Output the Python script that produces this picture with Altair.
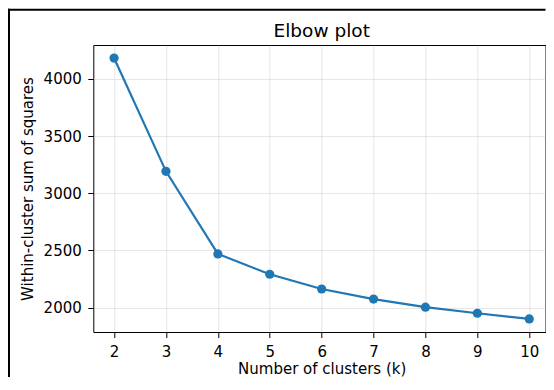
import altair as alt
import pandas as pd

k_values = [2, 3, 4, 5, 6, 7, 8, 9, 10]
wcss_values = [4183, 3192, 2470, 2292, 2163, 2075, 2004, 1951, 1901]
x_ticks = [2, 3, 4, 5, 6, 7, 8, 9, 10]
y_ticks = [2000, 2500, 3000, 3500, 4000]
title_text = "Elbow plot"

df = pd.DataFrame({"k": k_values, "wcss": wcss_values})

FONT = "DejaVu Sans"
BLUE = "#1f77b4"

x_enc = alt.X(
    "k:Q",
    scale=alt.Scale(domain=[1.6, 10.313], nice=False, zero=False),
    axis=alt.Axis(values=x_ticks, format="d", title="Number of clusters (k)",
                  titleX=228.4, titleAlign="center",
                  titleY=41.5, titleBaseline="alphabetic"),
)
y_enc = alt.Y(
    "wcss:Q",
    scale=alt.Scale(domain=[1787, 4297], nice=False, zero=False),
    axis=alt.Axis(values=y_ticks, format="d", title="Within-cluster sum of squares",
                  titleX=-61.3, titleY=143.5, titleAngle=270, titleAlign="center",
                  titleBaseline="alphabetic"),
)

# figure border: top and left edges (right/bottom lie outside the picture)
frame_top = alt.Chart(alt.Data(values=[{"f": 1}])).mark_rule(
    stroke="black", strokeWidth=2
).encode(x=alt.value(-85.3), x2=alt.value(452.2), y=alt.value(-35.3))
frame_left = alt.Chart(alt.Data(values=[{"f": 1}])).mark_rule(
    stroke="black", strokeWidth=2
).encode(x=alt.value(-84.3), y=alt.value(-36.3), y2=alt.value(332))

title = alt.Chart(alt.Data(values=[{"t": title_text}])).mark_text(
    font=FONT, fontSize=18.5, color="black", align="center", baseline="alphabetic"
).encode(
    x=alt.value(228.4), y=alt.value(-8.3), text="t:N"
)

base = alt.Chart(df)
line = base.mark_line(color=BLUE, strokeWidth=2.2).encode(x=x_enc, y=y_enc)
pts = base.mark_circle(color=BLUE, size=85, opacity=1).encode(x="k:Q", y="wcss:Q")

chart = alt.layer(line, pts, frame_top, frame_left, title).properties(
    width=452.2,
    height=287,
    autosize=alt.AutoSizeParams(type="none"),
    padding={"left": 85.3, "top": 37, "right": 0.5, "bottom": 45},
).configure_view(
    stroke="black", strokeWidth=1
).configure_axis(
    labelFont=FONT, labelFontSize=15, labelColor="black",
    titleFont=FONT, titleFontSize=15, titleFontWeight="normal", titleColor="black",
    tickColor="black", tickWidth=1, tickSize=5.5, labelPadding=6.5,
    domain=False, grid=True, gridColor="#b0b0b0", gridOpacity=0.3, gridWidth=1,
)

chart.save("out.html", embed_options={"renderer": "svg", "actions": False})
